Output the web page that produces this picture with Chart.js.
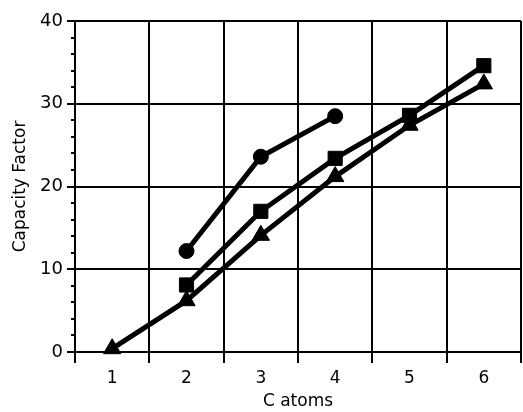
<!DOCTYPE html>
<html><head><meta charset="utf-8">
<script src="https://cdn.jsdelivr.net/npm/chart.js@4"></script>
<style>html,body{margin:0;padding:0;background:#fff}#w{width:523px;height:412px}</style>
</head><body><div id="w"><canvas id="c" width="523" height="412"></canvas></div>
<script>
const carbonAtoms = [1, 2, 3, 4, 5, 6];
const xTickLabels = ['1', '2', '3', '4', '5', '6'];
const yTickValues = [0, 10, 20, 30, 40];
const yTickLabels = ['0', '10', '20', '30', '40'];
const yMinorStep = 2;

const circleX = [2, 3, 4];
const circleY = [12.2, 23.6, 28.5];
const squareX = [2, 3, 4, 5, 6];
const squareY = [8.1, 17.0, 23.4, 28.6, 34.6];
const triangleX = [1, 2, 3, 4, 5, 6];
const triangleY = [0.4, 6.2, 14.1, 21.2, 27.4, 32.4];

function pts(xs, ys) { return xs.map((x, i) => ({x: x, y: ys[i]})); }

Chart.defaults.font.family = 'DejaVu Sans';
Chart.defaults.font.size = 17;
Chart.defaults.color = '#000';

const ink = '#000';
const none = 'rgba(0,0,0,0)';

function series(xs, ys, style, r) {
  return {
    data: pts(xs, ys),
    borderColor: ink, backgroundColor: ink,
    borderWidth: 5, tension: 0,
    pointStyle: style, pointRadius: r, pointBorderWidth: 1,
    pointBackgroundColor: ink, pointBorderColor: ink,
    clip: false
  };
}

new Chart(document.getElementById('c'), {
  type: 'line',
  data: {
    datasets: [
      series(triangleX, triangleY, 'triangle', 10),
      series(squareX, squareY, 'rect', 10),
      series(circleX, circleY, 'circle', 7.5)
    ]
  },
  options: {
    responsive: false,
    animation: false,
    layout: {autoPadding: false, padding: {top: 21, right: 2, left: 0, bottom: 0}},
    plugins: {legend: {display: false}, tooltip: {enabled: false}},
    scales: {
      x: {
        type: 'linear', min: 0.5, max: 6.5,
        afterBuildTicks: (s) => {
          const t = [];
          carbonAtoms.forEach(c => { t.push({value: c - 0.5}); t.push({value: c}); });
          t.push({value: carbonAtoms[carbonAtoms.length - 1] + 0.5});
          s.ticks = t;
        },
        afterFit: (s) => { s.height = 60; s.paddingLeft = 0; s.paddingRight = 0; },
        grid: {
          color: (ctx) => Number.isInteger(ctx.tick.value) ? none : ink,
          tickColor: (ctx) => Number.isInteger(ctx.tick.value) ? none : ink,
          lineWidth: 2, tickWidth: 2, tickLength: 11
        },
        border: {display: true, color: ink, width: 2},
        ticks: {
          autoSkip: false, maxRotation: 0, padding: 5,
          callback: (v) => {
            const i = carbonAtoms.indexOf(v);
            return i >= 0 ? xTickLabels[i] : '';
          }
        },
        title: {display: true, text: 'C atoms', padding: {top: 0, bottom: 0}}
      },
      y: {
        min: 0, max: 40,
        afterBuildTicks: (s) => {
          const t = [];
          for (let v = yTickValues[0]; v <= yTickValues[yTickValues.length - 1]; v += yMinorStep) t.push({value: v});
          s.ticks = t;
        },
        afterFit: (s) => { s.width = 75; s.paddingTop = 0; s.paddingBottom = 0; },
        grid: {
          color: (ctx) => yTickValues.includes(ctx.tick.value) ? ink : none,
          tickColor: ink,
          lineWidth: 2, tickWidth: 2, tickLength: 8,
          tickBorderDash: (ctx) => yTickValues.includes(ctx.tick.value) ? [] : [0, 4, 100]
        },
        border: {display: true, color: ink, width: 2},
        ticks: {
          autoSkip: false, padding: 4, font: {size: 18},
          callback: (v) => {
            const i = yTickValues.indexOf(v);
            return i >= 0 ? yTickLabels[i] : '';
          }
        },
        title: {display: true, text: 'Capacity Factor', padding: {top: 10, bottom: 0}, font: {size: 17}}
      }
    }
  }
});
</script>
</body></html>
